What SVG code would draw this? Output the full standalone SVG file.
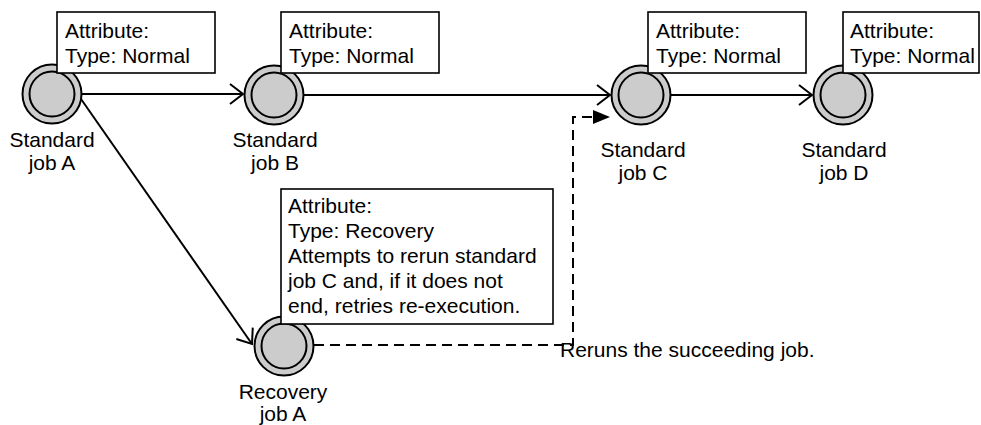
<svg xmlns="http://www.w3.org/2000/svg" width="981" height="425" viewBox="0 0 981 425">
<style>
  text { font-family: "Liberation Sans", Arial, sans-serif; font-size: 21px; fill: #000; }
  .outer { fill: #cccccc; stroke: #000; stroke-width: 2; }
  .inner { fill: #cccccc; stroke: #000; stroke-width: 2; }
  .box { fill: #fff; stroke: #000; stroke-width: 1.6; }
  .edge { fill: none; stroke: #000; stroke-width: 2; }
  .dash { fill: none; stroke: #000; stroke-width: 2; stroke-dasharray: 10 6; }
  .lbl { text-anchor: middle; }
</style>
<defs>
  <marker id="open" markerWidth="16" markerHeight="24" refX="14" refY="12" orient="auto" markerUnits="userSpaceOnUse" overflow="visible">
    <path d="M1,2 L14,12 L1,22" fill="none" stroke="#000" stroke-width="2"/>
  </marker>
  <marker id="filled" markerWidth="18" markerHeight="14" refX="17" refY="7" orient="auto" markerUnits="userSpaceOnUse">
    <path d="M0,0 L17,7 L0,14 Z" fill="#000"/>
  </marker>
</defs>

<g id="connectors">
  <line class="edge" x1="81" y1="94" x2="243" y2="94" marker-end="url(#open)"/>
  <line class="edge" x1="304" y1="95" x2="610" y2="95" marker-end="url(#open)"/>
  <line class="edge" x1="671" y1="95" x2="812" y2="95" marker-end="url(#open)"/>
  <line class="edge" x1="81" y1="99" x2="252" y2="344" marker-end="url(#open)"/>
  <path class="dash" d="M314,345 L573,345 L573,117 L610,117" marker-end="url(#filled)"/>
</g>

<g id="jobA">
  <circle class="outer" cx="52" cy="94" r="29.5"/>
  <circle class="inner" cx="52" cy="94" r="22.5"/>
  <text class="lbl" x="52" y="147">Standard</text>
  <text class="lbl" x="52" y="170">job A</text>
  <rect class="box" x="57" y="12" width="158" height="61"/>
  <text x="65" y="38">Attribute:</text>
  <text x="65" y="63">Type: Normal</text>
</g>

<g id="jobB">
  <circle class="outer" cx="274" cy="95" r="29.5"/>
  <circle class="inner" cx="274" cy="95" r="22.5"/>
  <text class="lbl" x="275" y="147">Standard</text>
  <text class="lbl" x="275" y="170">job B</text>
  <rect class="box" x="281" y="12" width="158" height="61"/>
  <text x="289" y="38">Attribute:</text>
  <text x="289" y="63">Type: Normal</text>
</g>

<g id="jobC">
  <circle class="outer" cx="641" cy="95" r="29.5"/>
  <circle class="inner" cx="641" cy="95" r="22.5"/>
  <text class="lbl" x="643" y="157">Standard</text>
  <text class="lbl" x="643" y="180">job C</text>
  <rect class="box" x="648" y="12" width="158" height="61"/>
  <text x="656" y="38">Attribute:</text>
  <text x="656" y="63">Type: Normal</text>
</g>

<g id="jobD">
  <circle class="outer" cx="843" cy="95" r="29.5"/>
  <circle class="inner" cx="843" cy="95" r="22.5"/>
  <text class="lbl" x="844" y="157">Standard</text>
  <text class="lbl" x="844" y="180">job D</text>
  <rect class="box" x="843" y="12" width="136" height="61"/>
  <text x="850" y="38">Attribute:</text>
  <text x="850" y="63">Type: Normal</text>
</g>

<g id="recoveryA">
  <circle class="outer" cx="284" cy="346" r="29.5"/>
  <circle class="inner" cx="284" cy="346" r="22.5"/>
  <text class="lbl" x="283" y="399">Recovery</text>
  <text class="lbl" x="283" y="421">job A</text>
  <rect class="box" x="281" y="189" width="272" height="135"/>
  <text x="288" y="213">Attribute:</text>
  <text x="288" y="238">Type: Recovery</text>
  <text x="288" y="263">Attempts to rerun standard</text>
  <text x="288" y="288">job C and, if it does not</text>
  <text x="288" y="313">end, retries re-execution.</text>
</g>

<g id="note">
  <text x="560" y="357">Reruns the succeeding job.</text>
</g>
</svg>
